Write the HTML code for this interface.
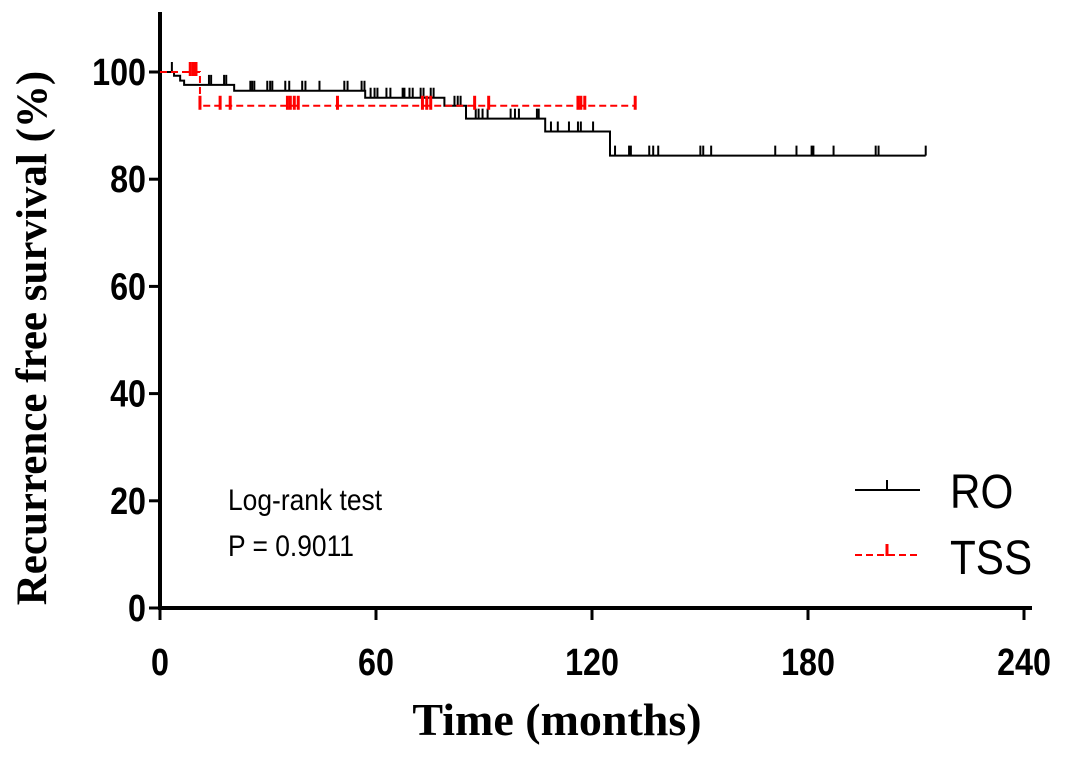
<!DOCTYPE html>
<html><head><meta charset="utf-8"><style>
html,body{margin:0;padding:0;background:#fff;}
svg{display:block;}
</style></head><body>
<svg id="chart" width="1078" height="762" viewBox="0 0 1078 762" xmlns="http://www.w3.org/2000/svg">
<g id="axes"></g>
<g id="plot"></g>
<text x="0" y="0" transform="translate(46,338) rotate(-90)" text-anchor="middle" font-family="Liberation Serif, serif" font-weight="bold" font-size="43">Recurrence free survival (%)</text>
<text x="557" y="735" text-anchor="middle" font-family="Liberation Serif, serif" font-weight="bold" font-size="46">Time (months)</text>
<text transform="translate(228,510) scale(0.88,1)" font-family="Liberation Sans, sans-serif" font-size="30">Log-rank test</text>
<text transform="translate(228,556) scale(0.88,1)" font-family="Liberation Sans, sans-serif" font-size="30">P = 0.9011</text>
<g>
<line x1="855" y1="490" x2="920" y2="490" stroke="#000" stroke-width="2"/>
<line x1="887" y1="490" x2="887" y2="480" stroke="#000" stroke-width="2"/>
<text transform="translate(950,508) scale(0.88,1)" font-family="Liberation Sans, sans-serif" font-size="48">RO</text>
</g>
<g>
<line x1="855" y1="555" x2="920" y2="555" stroke="#f00" stroke-width="2" stroke-dasharray="7,4"/>
<line x1="887" y1="556" x2="887" y2="544" stroke="#f00" stroke-width="3"/>
<text transform="translate(950,574) scale(0.88,1)" font-family="Liberation Sans, sans-serif" font-size="48">TSS</text>
</g>
</svg>
<script>
const xTicks = [0, 60, 120, 180, 240];
const yTicks = [0, 20, 40, 60, 80, 100];
// RO step curve: event times and survival level after each step
const roTimes = [0, 3.9, 5.6, 6.7, 20.6, 57, 79, 85, 107, 125];
const roLevels = [100, 99.3, 98.4, 97.6, 96.5, 95.2, 93.7, 91.3, 88.9, 84.4];
const roEnd = 212.7;
const roCensor = [3.3,13.6,14.2,17.8,18.4,25.1,25.6,26.2,29.8,30.6,31.2,34.8,35.9,39.5,40.4,44.3,51.2,52.1,56,56.8,58.5,59.6,60.4,62.9,64,67.4,67.9,69.3,70.2,72.4,73.2,75.2,76,81.8,82.7,83.5,87.7,88.5,89.6,91,97.4,98.6,99.7,104.7,105.2,108.6,110.5,113.6,116.1,116.9,120.3,126.4,130.3,130.8,135.9,137,138.4,150.1,150.9,153.1,170.9,176.8,181,181.5,187.1,198.8,199.6,212.7];
// TSS step curve
const tssTimes = [0, 11.1];
const tssLevels = [100, 93.7];
const tssEnd = 132;
const tssCensor = [8.4,9.2,10,11.1,16.7,19.5,35.4,36.2,37.3,38.4,49.3,72.9,74.1,75.2,87.4,91.3,116.1,116.9,118,132];

const X0=160, X1=1024, Y0=608, Y1=72;
const xs = t => X0 + t/240*(X1-X0);
const ys = v => Y0 - v/100*(Y0-Y1);
const NS="http://www.w3.org/2000/svg";
function mk(tag, attrs, parent){const e=document.createElementNS(NS,tag);for(const k in attrs)e.setAttribute(k,attrs[k]);parent.appendChild(e);return e;}
const axes=document.getElementById('axes'), plot=document.getElementById('plot');
let e=mk('line',{x1:X0,y1:12,x2:X0,y2:Y0+1,stroke:'#000','stroke-width':4},axes);


e=mk('line',{x1:X0-2,y1:Y0,x2:1032,y2:Y0,stroke:'#000','stroke-width':4},axes);


xTicks.forEach(t=>{
  let l=mk('line',{x1:xs(t),y1:Y0,x2:xs(t),y2:Y0+12,stroke:'#000','stroke-width':3},axes);
  
  
  let tx=mk('text',{transform:'translate('+xs(t)+',675) scale(0.85,1)','text-anchor':'middle','font-family':'Liberation Sans, sans-serif','font-weight':'bold','font-size':38},axes);
  tx.textContent=t;
  
  
});
yTicks.forEach(v=>{
  let l=mk('line',{x1:X0-11,y1:ys(v),x2:X0,y2:ys(v),stroke:'#000','stroke-width':3},axes);
  
  
  let tx=mk('text',{transform:'translate('+(X0-14)+','+(ys(v)+13)+') scale(0.85,1)','text-anchor':'end','font-family':'Liberation Sans, sans-serif','font-weight':'bold','font-size':38},axes);
  tx.textContent=v;
  
  
});
function levelAt(times,levels,t){let v=levels[0];for(let i=0;i<times.length;i++){if(times[i]<=t)v=levels[i];}return v;}
function drawCurve(times,levels,end,censor,color,dash,name){
  let d='M'+xs(0)+','+ys(levels[0]);
  for(let i=1;i<times.length;i++){d+=' H'+xs(times[i])+' V'+ys(levels[i]);}
  d+=' H'+xs(end);
  const p=mk('path',{d:d,fill:'none',stroke:color,'stroke-width':2},plot);
  if(dash)p.setAttribute('stroke-dasharray',dash);
  
  
  censor.forEach(t=>{
    const y=ys(levelAt(times,levels,t+0.001));
    const c=mk('line',{x1:xs(t),y1:dash?y+4:y,x2:xs(t),y2:y-10,stroke:color,'stroke-width':dash?3:2},plot);
    
    
  });
}
drawCurve(roTimes,roLevels,roEnd,roCensor,'#000',null,'ro');
drawCurve(tssTimes,tssLevels,tssEnd,tssCensor,'#f00','7,4','tss');
</script>
</body></html>
